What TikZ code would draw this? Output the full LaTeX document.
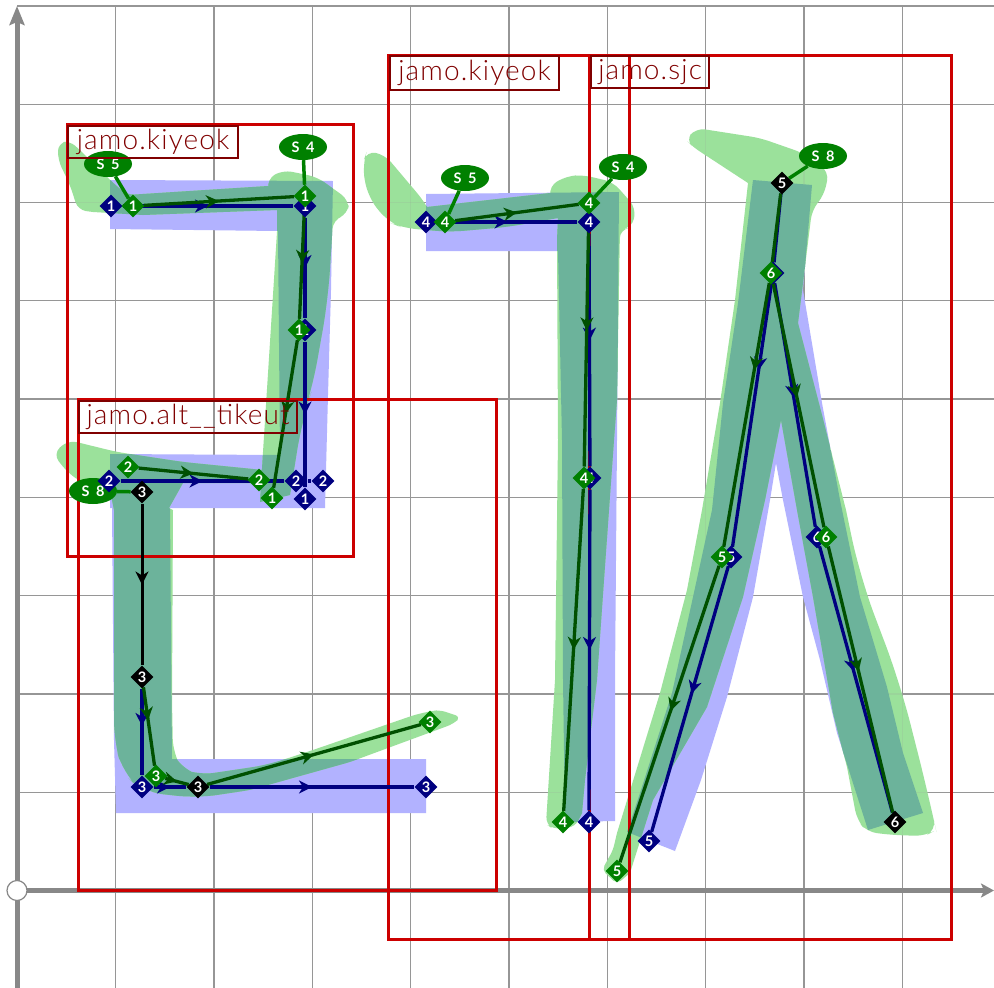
\documentclass[tikz,border=0pt]{standalone}
\usepackage{fontspec}
\usetikzlibrary{shapes.geometric,arrows.meta,decorations.markings}
\newfontfamily\labf[LetterSpace=4]{Lato Light}
\newfontfamily\numf{Lato}
\definecolor{bluefill}{RGB}{178,178,255}
\definecolor{greenfill}{RGB}{155,225,155}
\definecolor{bothfill}{RGB}{108,179,155}
\definecolor{gridc}{RGB}{150,150,150}
\definecolor{axisc}{RGB}{136,136,136}
\definecolor{boxred}{RGB}{204,0,0}
\definecolor{labred}{RGB}{128,0,0}
\definecolor{navyc}{RGB}{0,0,128}
\definecolor{greenc}{RGB}{0,128,0}
\definecolor{dgreen}{RGB}{0,80,0}
\newcommand\dg[1]{\raisebox{-5pt}[0pt][0pt]{\makebox[0pt]{#1}}}
\newcommand\bluepath{
  (110,180) -- (333,181) -- (331,290) -- (328,395) -- (325,508) -- (170,508) -- (172,759) -- (426,759) -- (426,813) -- (116,813) -- (114,740) -- (112,508) -- (110,508) -- (110,454) -- (280,455) -- (278,231) -- (110,229) -- cycle
  (426,194) -- (619,192) -- (617,440) -- (615,680) -- (615,821) -- (565,822) -- (563,680) -- (562,440) -- (558,251) -- (426,251) -- cycle
  (753,180) -- (812,185) -- (803,290) -- (822,403) -- (840,500) -- (860,597) -- (887,687) -- (903,753) -- (923,813) -- (868,830) -- (837,733) -- (820,660) -- (803,597) -- (783,500) -- (776,463) -- (770,500) -- (753,597) -- (727,697) -- (701,780) -- (675,851) -- (627,832) -- (640,793) -- (672,693) -- (693,597) -- (712,510) -- (723,403) -- (738,303) -- cycle
}
\newcommand\greenpath{
  (58,143) [rounded corners=7pt] -- (70,141) -- (83,153) -- (110,180) -- (127,195) [sharp corners] -- (268,186) [rounded corners=9pt] -- (267,179) -- (283,170) -- (317,177) -- (349,200) -- (348,214) -- (333,220) [rounded corners=30pt] -- (328,300) -- (312,390) -- (302,420) [sharp corners] -- (298,445) -- (290,495) -- (260,502) -- (263,452) -- (277,232) -- (277,210) -- (143,215) -- (93,212) [rounded corners=8pt] -- (78,210) -- (70,185) -- (58,160) -- cycle
  (53,454) [rounded corners=9pt] -- (68,440) -- (117,452) -- (183,462) -- (263,470) -- (290,475) [sharp corners] -- (285,490) -- (262,483) -- (183,483) -- (169,508) -- (173,510) -- (172,700) [rounded corners=14pt] -- (173,753) -- (182,769) -- (200,775) -- (267,765) -- (313,750) -- (423,712) [rounded corners=6pt] -- (440,710) -- (461,717) -- (453,724) -- (350,762) -- (250,790) [rounded corners=20pt] -- (197,798) -- (143,792) -- (123,773) -- (114,740) [sharp corners] -- (114,510) [rounded corners=9pt] -- (110,490) -- (83,483) -- (68,473) -- cycle
  (362,165) [rounded corners=9pt] -- (367,151) -- (385,155) -- (423,200) [sharp corners] -- (427,207) -- (550,193) [rounded corners=9pt] -- (549,186) -- (567,176) -- (583,175) -- (613,182) -- (636,208) -- (632,228) -- (620,229) [sharp corners] -- (617,400) -- (614,440) -- (604,580) -- (597,680) -- (585,780) -- (582,813) [rounded corners=7pt] -- (575,827) -- (553,829) -- (546,824) [sharp corners] -- (555,680) -- (558,440) -- (557,240) -- (558,218) [rounded corners=14pt] -- (507,227) -- (450,232) -- (403,228) -- (388,222) -- (368,197) -- cycle
  (686,140) [rounded corners=9pt] -- (696,128) -- (760,138) -- (803,153) -- (829,172) -- (824,195) -- (812,210) [sharp corners] -- (803,283) -- (798,323) -- (822,415) -- (846,510) [rounded corners=40pt] -- (860,577) -- (900,683) -- (928,793) [rounded corners=10pt] -- (936,830) -- (925,836) -- (893,835) -- (867,832) -- (857,820) [sharp corners] -- (847,767) -- (833,713) -- (813,597) -- (797,510) -- (781,420) -- (765,500) -- (743,597) -- (707,707) -- (653,800) -- (630,873) [rounded corners=5pt] -- (617,884) -- (602,870) -- (613,850) [sharp corners] -- (617,833) -- (660,693) -- (687,590) -- (702,510) -- (720,403) -- (735,300) -- (748,183) [rounded corners=8pt] -- (693,147) -- cycle
}
\newcommand\gridlines{
  \foreach \gx in {115.5,214,312.3,410.5,509,607.2,705.5,804,902.2} {\draw[gridline] (\gx,6) -- (\gx,988);}
  \foreach \gy in {6,104.2,202.5,300.8,399,497.5,595.7,694,792.3} {\draw[gridline] (17,\gy) -- (994,\gy);}
}
\pgfdeclarelayer{under}
\pgfsetlayers{under,main}
\tikzset{
  x=1pt,y=-1pt,
  gridline/.style={draw=gridc,line width=1.3pt},
  axisline/.style={draw=axisc,line width=5pt},
  redbox/.style={draw=boxred,line width=3pt},
  labbox/.style={draw=labred,line width=2.2pt,text=labred,anchor=north west,inner sep=0pt,align=center,font=\labf\fontsize{28}{30}\selectfont},
  dm/.style={diamond,inner sep=0pt,minimum size=23pt,fill=#1,text=white,font=\numf\bfseries\fontsize{14.5}{15}\selectfont},
  tag/.style={ellipse,inner sep=0pt,minimum width=48pt,minimum height=26pt,fill=greenc,text=white,font=\numf\bfseries\fontsize{14.5}{15}\selectfont},
  tether/.style={draw=greenc,line width=3.5pt},
  arr/.style={postaction={decorate},decoration={markings,mark=at position #1 with {\arrow{Stealth[length=13pt,width=13pt,inset=4pt]}}}},
  arr/.default=.5,
  nl/.style={draw=navyc,line width=3.3pt},
  gl/.style={draw=dgreen,line width=3.3pt},
  kl/.style={draw=black,line width=3pt},
}
\begin{document}
\begin{tikzpicture}
\useasboundingbox (0,0) rectangle (994,988);
\coordinate (ytop) at (17,6);
\coordinate (ybot) at (17,988);
\coordinate (xend) at (994,890.5);
\coordinate (org) at (17,890.5);
\begin{pgfonlayer}{under}
\fill[white] (0,0) rectangle (994,988);
\gridlines
\draw[axisline,-{Stealth[length=19pt,width=15pt,inset=3pt]}] (ybot) -- (ytop);
\draw[axisline,-{Stealth[length=13pt,width=14pt,inset=3pt]}] (org) -- (xend);
\fill[bluefill] \bluepath;
\fill[greenfill] \greenpath;
\begin{scope}
  \clip \greenpath;
  \begin{scope}[opacity=.15]\gridlines\end{scope}
\end{scope}
\begin{scope}
  \clip \bluepath;
  \fill[bothfill] \greenpath;
\end{scope}
\draw[redbox] (67,124.5) rectangle (353,556);
\draw[redbox] (78,399.5) rectangle (496,890);
\draw[redbox] (388.5,55) rectangle (629,939);
\draw[redbox] (589.5,55) rectangle (951,939);
\end{pgfonlayer}
\node[circle,draw=axisc,line width=1.2pt,fill=white,minimum size=20pt,inner sep=0pt] (origin) at (org) {};
% S tags
\node[tag] (sa) at (108,164) {S\ \kern3pt 5};
\node[tag] (sb) at (303,147) {S\ \kern3pt 4};
\node[tag] (sc) at (93,491) {S\ \kern3pt 8};
\node[tag] (sd) at (465,178) {S\ \kern3pt 5};
\node[tag] (se) at (623,167) {S\ \kern3pt 4};
\node[tag] (sf) at (823,156) {S\ \kern3pt 8};
% navy points
\node[dm=navyc] (ba1) at (111,206) {\dg{1}};
\node[dm=navyc] (ba2) at (305,206) {\dg{1}};
\node[dm=navyc] (ba3) at (305,330) {\dg{1}};
\node[dm=navyc] (ba4) at (305,499) {\dg{1}};
\node[dm=navyc] (bb1) at (109,481) {\dg{2}};
\node[dm=navyc] (bb2) at (296,481) {\dg{2}};
\node[dm=navyc] (bb3) at (323,481) {\dg{2}};
\node[dm=navyc] (bc1) at (142,787) {\dg{3}};
\node[dm=navyc] (bc2) at (426,787) {\dg{3}};
\node[dm=navyc] (bd1) at (426,222) {\dg{4}};
\node[dm=navyc] (bd2) at (589,222) {\dg{4}};
\node[dm=navyc] (bd3) at (590,478) {\dg{4}};
\node[dm=navyc] (bd4) at (589,822) {\dg{4}};
\node[dm=navyc] (be1) at (773,273) {\dg{6}};
\node[dm=navyc] (be2) at (731,557) {\dg{5}};
\node[dm=navyc] (be3) at (649,841) {\dg{5}};
\node[dm=navyc] (be4) at (817,537) {\dg{6}};
% black points
\node[dm=black] (kc1) at (142,492) {\dg{3}};
\node[dm=black] (kc2) at (142,677) {\dg{3}};
\node[dm=black] (kc3) at (198,787) {\dg{3}};
\node[dm=black] (ke1) at (782,183) {\dg{5}};
\node[dm=black] (ke2) at (895,822) {\dg{6}};
% green points
\node[dm=greenc] (ga1) at (133,206) {\dg{1}};
\node[dm=greenc] (ga2) at (305,196) {\dg{1}};
\node[dm=greenc] (ga3) at (299,330) {\dg{1}};
\node[dm=greenc] (ga4) at (272,498) {\dg{1}};
\node[dm=greenc] (gb1) at (128,467) {\dg{2}};
\node[dm=greenc] (gb2) at (259,480) {\dg{2}};
\node[dm=greenc] (gc1) at (156,776) {\dg{3}};
\node[dm=greenc] (gc2) at (430,722) {\dg{3}};
\node[dm=greenc] (gd1) at (445,222) {\dg{4}};
\node[dm=greenc] (gd2) at (589,203) {\dg{4}};
\node[dm=greenc] (gd3) at (584,478) {\dg{4}};
\node[dm=greenc] (gd4) at (563,822) {\dg{4}};
\node[dm=greenc] (ge1) at (771,273) {\dg{6}};
\node[dm=greenc] (ge2) at (722,557) {\dg{5}};
\node[dm=greenc] (ge3) at (617,871) {\dg{5}};
\node[dm=greenc] (ge4) at (826,537) {\dg{6}};
% labels
\node[labbox,minimum width=170pt,minimum height=32pt] (la) at (67,125) {jamo.kiyeok};
\node[labbox,minimum width=218pt,minimum height=32pt] (lb) at (78,400) {jamo.alt\_\_tikeut};
\node[labbox,minimum width=169pt,minimum height=34pt] (lc) at (389,55) {jamo.kiyeok};
\node[labbox,minimum width=118pt,minimum height=32pt] (ld) at (590,55) {jamo.sjc};
\begin{pgfonlayer}{under}
\draw[tether] (sa) -- (ga1);
\draw[tether] (sb) -- (ga2);
\draw[tether] (sc) -- (kc1);
\draw[tether] (sd) -- (gd1);
\draw[tether] (se) -- (gd2);
\draw[tether] (sf) -- (ke1);
\draw[nl,arr] (ba1) -- (ba2);
\draw[nl,arr] (ba2) -- (ba3);
\draw[nl,arr] (ba3) -- (ba4);
\draw[nl,arr] (bb1) -- (bb2);
\draw[nl] (bb2) -- (bb3);
\draw[nl,arr=.43] (kc2) -- (bc1);
\draw[nl,arr=.5] (bc1) -- (kc3);
\draw[nl,arr] (kc3) -- (bc2);
\draw[nl,arr] (bd1) -- (bd2);
\draw[nl,arr=.46] (bd2) -- (bd3);
\draw[nl,arr] (bd3) -- (bd4);
\draw[nl] (ke1) -- (be1);
\draw[nl,arr=.33] (be1) -- (be2);
\draw[nl,arr=.48] (be2) -- (be3);
\draw[nl,arr=.47] (be1) -- (be4);
\draw[nl,arr=.47] (be4) -- (ke2);
\draw[kl,arr] (kc1) -- (kc2);
\draw[gl,arr] (ga1) -- (ga2);
\draw[gl,arr] (ga2) -- (ga3);
\draw[gl,arr] (ga3) -- (ga4);
\draw[gl,arr] (gb1) -- (gb2);
\draw[gl,arr=.42] (kc2) -- (gc1);
\draw[gl,arr] (gc1) -- (kc3);
\draw[gl,arr] (kc3) -- (gc2);
\draw[gl,arr] (gd1) -- (gd2);
\draw[gl,arr=.46] (gd2) -- (gd3);
\draw[gl,arr] (gd3) -- (gd4);
\draw[gl] (ke1) -- (ge1);
\draw[gl,arr=.33] (ge1) -- (ge2);
\draw[gl,arr=.49] (ge2) -- (ge3);
\draw[gl,arr=.47] (ge1) -- (ge4);
\draw[gl,arr=.47] (ge4) -- (ke2);
\end{pgfonlayer}
\end{tikzpicture}
\end{document}
